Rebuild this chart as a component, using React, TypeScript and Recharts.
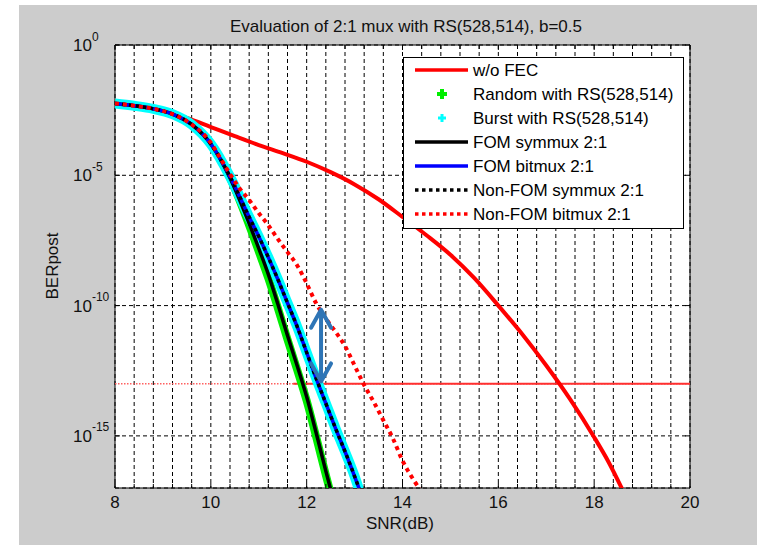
import React from 'react';
import { LineChart, Line, XAxis, YAxis, CartesianGrid, ReferenceLine, ReferenceArea, Legend } from 'recharts';

// SNR in dB, BER given as log10 exponent
const snrUncoded = [8, 8.5, 9, 9.5, 10, 10.5, 11, 11.5, 12, 12.5, 13, 13.5, 14, 14.5, 15, 15.5, 16, 16.5, 17, 17.5, 18, 18.3, 18.6];
const berUncoded = [-2.24, -2.38, -2.55, -2.8, -3.15, -3.5, -3.84, -4.15, -4.48, -4.88, -5.35, -5.92, -6.6, -7.3, -8.05, -8.95, -10, -11.1, -12.3, -13.6, -15.05, -16, -17.1];

const snrSym = [8, 8.4, 8.8, 9.2, 9.6, 10, 10.4, 10.8, 11, 11.2, 11.4, 11.6, 11.8, 12, 12.2, 12.4, 12.5];
const berRandom = [-2.24, -2.33, -2.45, -2.65, -3.05, -3.8, -5.1, -6.92, -7.92, -8.95, -10.1, -11.3, -12.45, -13.65, -15.05, -16.5, -17.2];
const berFomSym = [-2.24, -2.33, -2.45, -2.65, -3.05, -3.8, -5.1, -6.85, -7.8, -8.8, -9.95, -11.15, -12.3, -13.5, -14.9, -16.35, -17.05];

const snrBit = [8, 8.4, 8.8, 9.2, 9.6, 10, 10.4, 10.8, 11, 11.2, 11.4, 11.6, 11.8, 12, 12.2, 12.4, 12.6, 12.8, 13, 13.1];
const berBurst = [-2.24, -2.33, -2.45, -2.65, -3.05, -3.8, -5.05, -6.6, -7.35, -8.15, -9.0, -9.9, -10.8, -11.8, -12.8, -13.75, -14.7, -15.6, -16.55, -17.1];
const berFomBit = [-2.24, -2.33, -2.45, -2.65, -3.05, -3.8, -5.05, -6.6, -7.35, -8.15, -9.0, -9.9, -10.8, -11.8, -12.8, -13.75, -14.7, -15.6, -16.55, -17.05];
const berNonFomSym = [-2.24, -2.33, -2.45, -2.65, -3.05, -3.8, -5.05, -6.6, -7.35, -8.15, -9.0, -9.9, -10.8, -11.8, -12.8, -13.75, -14.7, -15.6, -16.55, -17.05];

const snrNonBit = [8, 8.4, 8.8, 9.2, 9.6, 10, 10.2, 10.4, 10.6, 10.8, 11, 11.2, 11.4, 11.6, 11.8, 12, 12.2, 12.4, 12.6, 12.8, 13, 13.2, 13.4, 13.6, 13.8, 14, 14.2, 14.4];
const berNonFomBit = [-2.24, -2.33, -2.45, -2.65, -3.05, -3.75, -4.35, -4.95, -5.5, -5.95, -6.45, -6.92, -7.45, -7.95, -8.45, -9.15, -9.92, -10.5, -11.0, -11.55, -12.3, -13.05, -13.7, -14.4, -15.1, -15.95, -16.6, -17.15];

const xTicks = [8, 8.4, 8.8, 9.2, 9.6, 10, 10.4, 10.8, 11.2, 11.6, 12, 12.4, 12.8, 13.2, 13.6, 14, 14.4, 14.8, 15.2, 15.6, 16, 16.4, 16.8, 17.2, 17.6, 18, 18.4, 18.8, 19.2, 19.6, 20];
const yTicks = [1e-15, 1e-10, 1e-5, 1];

const berLimit = 1e-13;
const arrowSnr = 12.3;
const arrowFrom = -10.12;
const arrowTo = -12.95;

const FONT = '"Liberation Sans", Arial, sans-serif';
const PLOT = { left: 115, right: 690, top: 45, bottom: 488 };

const toPoints = (snr: number[], ber: number[]) => snr.map((x, i) => ({ x, y: Math.pow(10, ber[i]) }));

const uncoded = toPoints(snrUncoded, berUncoded);
const random = toPoints(snrSym, berRandom);
const burst = toPoints(snrBit, berBurst);
const fomSym = toPoints(snrSym, berFomSym);
const fomBit = toPoints(snrBit, berFomBit);
const nonFomSym = toPoints(snrBit, berNonFomSym);
const nonFomBit = toPoints(snrNonBit, berNonFomBit);

const legendItems = [
    { label: 'w/o FEC', color: '#ff0000', kind: 'line' },
    { label: 'Random with RS(528,514)', color: '#00ee00', kind: 'plusBold' },
    { label: 'Burst with RS(528,514)', color: '#00ffff', kind: 'plus' },
    { label: 'FOM symmux 2:1', color: '#000000', kind: 'line' },
    { label: 'FOM bitmux 2:1', color: '#0000ff', kind: 'line' },
    { label: 'Non-FOM symmux 2:1', color: '#000000', kind: 'dots' },
    { label: 'Non-FOM bitmux 2:1', color: '#ff0000', kind: 'dots' },
];

const LegendBox = () => (
    <div style={{ width: 281, height: 172, background: '#fff', border: '1px solid #000', boxSizing: 'border-box' }}>
        <svg width={279} height={170} style={{ display: 'block' }}>
            {legendItems.map((it, i) => {
                const cy = 12 + i * 24;
                let sample;
                if (it.kind === 'line') {
                    sample = <line x1={11} x2={64} y1={cy} y2={cy} stroke={it.color} strokeWidth={3.5} />;
                } else if (it.kind === 'dots') {
                    sample = <line x1={11} x2={64} y1={cy} y2={cy} stroke={it.color} strokeWidth={3.5} strokeDasharray="3.5 3.5" />;
                } else {
                    const s = it.kind === 'plusBold' ? 5 : 4;
                    const w = it.kind === 'plusBold' ? 4 : 3;
                    sample = (
                        <g stroke={it.color} strokeWidth={w}>
                            <line x1={38 - s} x2={38 + s} y1={cy} y2={cy} />
                            <line x1={38} x2={38} y1={cy - s} y2={cy + s} />
                        </g>
                    );
                }
                return (
                    <g key={it.label}>
                        {sample}
                        <text x={69} y={cy + 6} fontSize={17} fontFamily={FONT} fill="#000">{it.label}</text>
                    </g>
                );
            })}
        </svg>
    </div>
);

const XTick = ({ x, payload }: any) => {
    const v = payload.value;
    const major = Math.abs(v - Math.round(v)) < 1e-6 && Math.round(v) % 2 === 0;
    const len = major ? 5 : 4;
    return (
        <g>
            <line x1={x} x2={x} y1={PLOT.bottom} y2={PLOT.bottom - len} stroke="#000" />
            <line x1={x} x2={x} y1={PLOT.top} y2={PLOT.top + len} stroke="#000" />
            {major && (
                <text x={x} y={508} textAnchor="middle" fontSize={17} fontFamily={FONT} fill="#111">{Math.round(v)}</text>
            )}
        </g>
    );
};

const YTick = ({ y, payload }: any) => {
    const exp = Math.round(Math.log10(payload.value));
    return (
        <g>
            <line x1={PLOT.left} x2={PLOT.left + 5} y1={y} y2={y} stroke="#000" />
            <line x1={PLOT.right - 5} x2={PLOT.right} y1={y} y2={y} stroke="#000" />
            <text x={73} y={y + 6} fontSize={17} fontFamily={FONT} fill="#111">
                10<tspan dy={-10.5} fontSize={12}>{exp}</tspan>
            </text>
        </g>
    );
};

const DoubleArrow = (props: any) => {
    const { x1, y1, y2 } = props;
    const top = Math.min(y1, y2);
    const bot = Math.max(y1, y2);
    return (
        <g stroke="#2e75b6" strokeWidth={4} fill="none" strokeLinecap="round" strokeLinejoin="round">
            <line x1={x1} x2={x1} y1={top + 2} y2={bot - 2} />
            <polyline points={`${x1 - 10},${top + 19} ${x1},${top + 1} ${x1 + 10},${top + 19}`} />
            <polyline points={`${x1 - 10},${bot - 19} ${x1},${bot - 1} ${x1 + 10},${bot - 19}`} />
        </g>
    );
};

export default function App() {
    return (
        <div style={{ position: 'absolute', left: 0, top: 0, width: 757, height: 545, background: '#fff', fontFamily: FONT }}>
            <div style={{ position: 'absolute', left: 19, top: 5, right: 0, bottom: 0, background: '#cccccc' }} />
            <div style={{ position: 'absolute', left: 0, top: 0 }}>
                <LineChart width={757} height={545} margin={{ top: 45, right: 67, bottom: 0, left: 0 }}>
                    <text x={406} y={32} textAnchor="middle" fontSize={17} fontFamily={FONT} fill="#111">
                        Evaluation of 2:1 mux with RS(528,514), b=0.5
                    </text>
                    <CartesianGrid fill="#fff" stroke="#000" strokeDasharray="4 3" />
                    <XAxis
                        dataKey="x"
                        type="number"
                        domain={[8, 20]}
                        ticks={xTicks}
                        interval={0}
                        height={57}
                        axisLine={false}
                        tickLine={false}
                        tick={<XTick />}
                        allowDataOverflow
                        label={{
                            content: () => (
                                <text x={400} y={529} textAnchor="middle" fontSize={17} fontFamily={FONT} fill="#111">SNR(dB)</text>
                            ),
                        }}
                    />
                    <YAxis
                        dataKey="y"
                        type="number"
                        scale="log"
                        domain={[1e-17, 1]}
                        ticks={yTicks}
                        interval={0}
                        width={115}
                        axisLine={false}
                        tickLine={false}
                        tick={<YTick />}
                        allowDataOverflow
                        label={{
                            content: () => (
                                <text x={58} y={266} transform="rotate(-90 58 266)" textAnchor="middle" fontSize={17} fontFamily={FONT} fill="#111">BERpost</text>
                            ),
                        }}
                    />
                    <ReferenceLine y={berLimit} stroke="#ff6060" strokeWidth={1.5} strokeDasharray="1.5 1.5" />
                    <ReferenceLine segment={[{ x: 11.72, y: berLimit }, { x: 20, y: berLimit }]} stroke="#ff3030" strokeWidth={1.8} />

                    <Line type="monotone" data={uncoded} dataKey="y" stroke="#ff0000" strokeWidth={4} dot={false} isAnimationActive={false} legendType="none" />
                    <Line type="monotone" data={random} dataKey="y" stroke="#00ee00" strokeWidth={8} dot={false} isAnimationActive={false} legendType="none" />
                    <Line type="monotone" data={burst} dataKey="y" stroke="#00ffff" strokeWidth={10} dot={false} isAnimationActive={false} legendType="none" />
                    <Line type="monotone" data={fomSym} dataKey="y" stroke="#000000" strokeWidth={3.5} dot={false} isAnimationActive={false} legendType="none" />
                    <Line type="monotone" data={fomBit} dataKey="y" stroke="#0000ff" strokeWidth={3.5} dot={false} isAnimationActive={false} legendType="none" />
                    <Line type="monotone" data={nonFomSym} dataKey="y" stroke="#000000" strokeWidth={3.5} strokeDasharray="3.5 3.5" dot={false} isAnimationActive={false} legendType="none" />
                    <Line type="monotone" data={nonFomBit} dataKey="y" stroke="#ff0000" strokeWidth={4} strokeDasharray="4 4" dot={false} isAnimationActive={false} legendType="none" />

                    <ReferenceLine
                        segment={[{ x: arrowSnr, y: Math.pow(10, arrowFrom) }, { x: arrowSnr, y: Math.pow(10, arrowTo) }]}
                        shape={<DoubleArrow />}
                    />
                    <ReferenceArea x1={8} x2={20} y1={1e-17} y2={1} fill="none" stroke="#000" strokeWidth={1} />
                    <Legend
                        layout="vertical"
                        align="center"
                        verticalAlign="middle"
                        wrapperStyle={{ position: 'absolute', left: 403, top: 57, width: 281, height: 172 }}
                        content={() => <LegendBox />}
                    />
                </LineChart>
            </div>
        </div>
    );
}
